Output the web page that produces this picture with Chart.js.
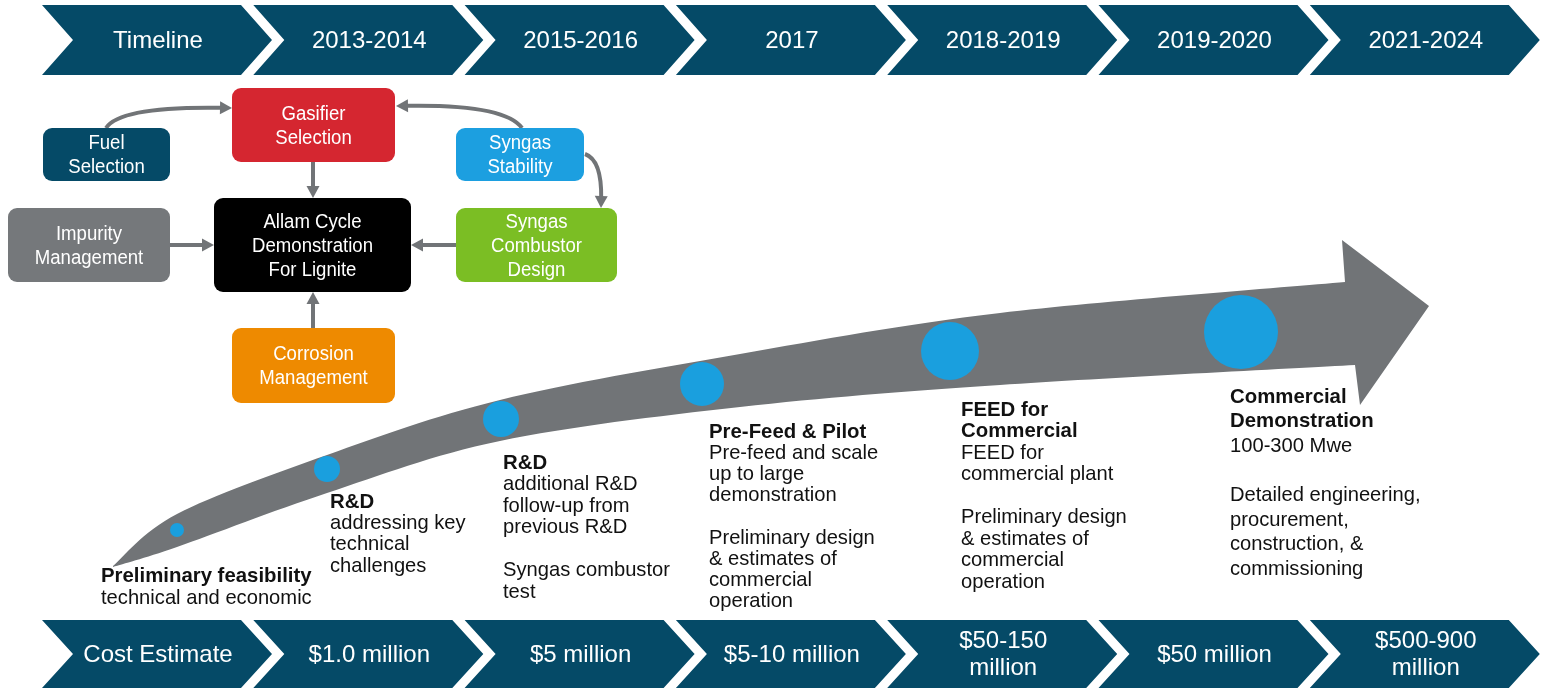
<!DOCTYPE html>
<html>
<head>
<meta charset="utf-8">
<script src="https://cdn.jsdelivr.net/npm/chart.js@4.4.1/dist/chart.umd.min.js"></script>
<style>
  html, body { margin: 0; padding: 0; background: #fff; overflow: hidden; }
</style>
</head>
<body>
<canvas id="chart" width="1548" height="690"></canvas>
<script>
// --- data ---
const timelineLabels = ['Timeline', '2013-2014', '2015-2016', '2017', '2018-2019', '2019-2020', '2021-2024'];
const costLabels = ['Cost Estimate', '$1.0 million', '$5 million', '$5-10 million', '$50-150\nmillion', '$50 million', '$500-900\nmillion'];

const stageTitles = [
  ['Preliminary feasibility'],
  ['R&D'],
  ['R&D'],
  ['Pre-Feed & Pilot'],
  ['FEED for', 'Commercial'],
  ['Commercial', 'Demonstration']
];
const stageNotes = [
  ['technical and economic'],
  ['addressing key', 'technical', 'challenges'],
  ['additional R&D', 'follow-up from', 'previous R&D', '', 'Syngas combustor', 'test'],
  ['Pre-feed and scale', 'up to large', 'demonstration', '', 'Preliminary design', '& estimates of', 'commercial', 'operation'],
  ['FEED for', 'commercial plant', '', 'Preliminary design', '& estimates of', 'commercial', 'operation'],
  ['100-300 Mwe', '', 'Detailed engineering,', 'procurement,', 'construction, &', 'commissioning']
];

// bubble position along the arrow and its size
const bubbleX = [177, 327, 501, 702, 950, 1241];
const bubbleY = [530, 469, 419, 384, 351, 332];
const bubbleR = [7, 13, 18, 22, 29, 37];

const flowLabels = ['Fuel\nSelection', 'Gasifier\nSelection', 'Syngas\nStability', 'Impurity\nManagement',
  'Allam Cycle\nDemonstration\nFor Lignite', 'Syngas\nCombustor\nDesign', 'Corrosion\nManagement'];

// --- layout (not data) ---
const boxLayout = [
  { x: 43, y: 128, w: 127, h: 53, c: '#054a67' },
  { x: 232, y: 88, w: 163, h: 74, c: '#d52630' },
  { x: 456, y: 128, w: 128, h: 53, c: '#1c9fe0' },
  { x: 8, y: 208, w: 162, h: 74, c: '#75787b' },
  { x: 214, y: 198, w: 197, h: 94, c: '#000000' },
  { x: 456, y: 208, w: 161, h: 74, c: '#7bbe24' },
  { x: 232, y: 328, w: 163, h: 75, c: '#ee8a00' }
];
const textPos = [[101, 576, 22], [330, 502, 21.3], [503, 463, 21.5], [709, 432, 21.2], [961, 410, 21.5], [1230, 397, 24.6]];
const upperEdge = [[113, 566], [177, 514], [327, 455], [500, 400], [740, 354], [1000, 313], [1345, 282]];
const lowerEdge = [[113, 567], [177, 547], [327, 493], [500, 441], [740, 407], [1000, 385], [1355, 365]];
const arrowHead = [[1342, 240], [1429, 306], [1360, 405]];

const TEAL = '#054a67';
const GREY = '#717477';
const FONT = '"Liberation Sans", Arial, sans-serif';

function spline(ctx, pts, px, first) {
  const p = pts.map(q => [px.x(q[0]), px.y(q[1])]);
  if (first) ctx.moveTo(p[0][0], p[0][1]); else ctx.lineTo(p[0][0], p[0][1]);
  for (let i = 0; i < p.length - 1; i++) {
    const p0 = p[Math.max(i - 1, 0)], p1 = p[i], p2 = p[i + 1], p3 = p[Math.min(i + 2, p.length - 1)];
    ctx.bezierCurveTo(p1[0] + (p2[0] - p0[0]) / 6, p1[1] + (p2[1] - p0[1]) / 6,
      p2[0] - (p3[0] - p1[0]) / 6, p2[1] - (p3[1] - p1[1]) / 6, p2[0], p2[1]);
  }
}

// narrow-looking text: draw with a horizontal squeeze
function narrowText(ctx, t, x, y, sx) {
  ctx.save();
  ctx.translate(x, y);
  ctx.scale(sx, 1);
  ctx.fillText(t, 0, 0);
  ctx.restore();
}

function chevronRow(ctx, px, labels, top, bot) {
  const mid = (top + bot) / 2, d = 31, w = 199, step = 211.3;
  labels.forEach((lab, i) => {
    const L = 42 + step * i;
    ctx.beginPath();
    ctx.moveTo(px.x(L), px.y(top));
    ctx.lineTo(px.x(L + w), px.y(top));
    ctx.lineTo(px.x(L + w + d), px.y(mid));
    ctx.lineTo(px.x(L + w), px.y(bot));
    ctx.lineTo(px.x(L), px.y(bot));
    ctx.lineTo(px.x(L + d), px.y(mid));
    ctx.closePath();
    ctx.fillStyle = TEAL;
    ctx.fill();
    const lines = lab.split('\n');
    ctx.fillStyle = '#fff';
    ctx.font = '24px ' + FONT;
    ctx.textAlign = 'center';
    ctx.textBaseline = 'middle';
    const cx = L + 116;
    lines.forEach((t, j) => {
      ctx.fillText(t, px.x(cx), px.y(mid + 1 + (j - (lines.length - 1) / 2) * 27));
    });
  });
}

function roundBox(ctx, x, y, w, h, r) {
  ctx.beginPath();
  ctx.moveTo(x + r, y);
  ctx.arcTo(x + w, y, x + w, y + h, r);
  ctx.arcTo(x + w, y + h, x, y + h, r);
  ctx.arcTo(x, y + h, x, y, r);
  ctx.arcTo(x, y, x + w, y, r);
  ctx.closePath();
}

function arrowTip(ctx, x, y, ang) {
  const s = 12;
  ctx.beginPath();
  ctx.moveTo(x, y);
  ctx.lineTo(x - s * Math.cos(ang) + 6.5 * Math.sin(ang), y - s * Math.sin(ang) - 6.5 * Math.cos(ang));
  ctx.lineTo(x - s * Math.cos(ang) - 6.5 * Math.sin(ang), y - s * Math.sin(ang) + 6.5 * Math.cos(ang));
  ctx.closePath();
  ctx.fill();
}

function flowArrow(ctx, px, pts) {
  const p = pts.map(q => [px.x(q[0]), px.y(q[1])]);
  ctx.strokeStyle = GREY;
  ctx.fillStyle = GREY;
  ctx.lineWidth = 4;
  ctx.beginPath();
  ctx.moveTo(p[0][0], p[0][1]);
  const e = p[p.length - 1], c = p[p.length - 2];
  const ang = Math.atan2(e[1] - c[1], e[0] - c[0]);
  const ex = e[0] - 9 * Math.cos(ang), ey = e[1] - 9 * Math.sin(ang);
  if (p.length === 3) ctx.quadraticCurveTo(p[1][0], p[1][1], ex, ey);
  else ctx.lineTo(ex, ey);
  ctx.stroke();
  arrowTip(ctx, e[0], e[1], ang);
}

const backdrop = {
  id: 'backdrop',
  beforeDatasetsDraw(chart) {
    const ctx = chart.ctx;
    const px = { x: v => chart.scales.x.getPixelForValue(v), y: v => chart.scales.y.getPixelForValue(v) };
    ctx.save();
    // big curved arrow
    ctx.beginPath();
    spline(ctx, upperEdge, px, true);
    arrowHead.forEach(q => ctx.lineTo(px.x(q[0]), px.y(q[1])));
    spline(ctx, lowerEdge.slice().reverse(), px, false);
    ctx.closePath();
    ctx.fillStyle = GREY;
    ctx.fill();
    ctx.restore();
  },
  afterDraw(chart) {
    const ctx = chart.ctx;
    const px = { x: v => chart.scales.x.getPixelForValue(v), y: v => chart.scales.y.getPixelForValue(v) };
    ctx.save();
    chevronRow(ctx, px, timelineLabels, 5, 75);
    chevronRow(ctx, px, costLabels, 620, 688);

    // flow diagram arrows
    flowArrow(ctx, px, [[106, 128], [120, 106], [232, 108]]);
    flowArrow(ctx, px, [[522, 128], [505, 104], [396, 106]]);
    flowArrow(ctx, px, [[585, 154], [602, 160], [601, 208]]);
    flowArrow(ctx, px, [[313, 162], [313, 198]]);
    flowArrow(ctx, px, [[170, 245], [214, 245]]);
    flowArrow(ctx, px, [[456, 245], [411, 245]]);
    flowArrow(ctx, px, [[313, 328], [313, 292]]);

    // flow boxes
    boxLayout.forEach((b, i) => {
      roundBox(ctx, px.x(b.x), px.y(b.y), b.w, b.h, 9);
      ctx.fillStyle = b.c;
      ctx.fill();
      const lines = flowLabels[i].split('\n');
      ctx.fillStyle = '#fff';
      ctx.font = '20px ' + FONT;
      ctx.textAlign = 'center';
      ctx.textBaseline = 'middle';
      lines.forEach((t, j) => {
        narrowText(ctx, t, px.x(b.x + b.w / 2), px.y(b.y + b.h / 2 + 1 + (j - (lines.length - 1) / 2) * 24), 0.93);
      });
    });

    // stage descriptions
    ctx.textAlign = 'left';
    ctx.textBaseline = 'middle';
    ctx.fillStyle = '#111';
    stageTitles.forEach((titles, i) => {
      const [x0, y0, lh] = textPos[i];
      let k = 0;
      ctx.font = 'bold 21px ' + FONT;
      titles.forEach(t => { narrowText(ctx, t, px.x(x0), px.y(y0 + k * lh), 0.97); k++; });
      ctx.font = '21px ' + FONT;
      stageNotes[i].forEach(t => { if (t) narrowText(ctx, t, px.x(x0), px.y(y0 + k * lh), 0.96); k++; });
    });
    ctx.restore();
  }
};

new Chart(document.getElementById('chart'), {
  type: 'bubble',
  data: {
    datasets: [{
      label: 'Stage',
      data: bubbleX.map((x, i) => ({ x: x, y: bubbleY[i], r: bubbleR[i] })),
      backgroundColor: '#1a9fde',
      borderWidth: 0,
      hoverRadius: 0,
      clip: false
    }]
  },
  options: {
    responsive: false,
    animation: false,
    events: [],
    layout: { padding: 0, autoPadding: false },
    plugins: { legend: { display: false }, tooltip: { enabled: false } },
    scales: {
      x: { type: 'linear', min: 0, max: 1548, display: false },
      y: { type: 'linear', min: 0, max: 690, reverse: true, display: false }
    }
  },
  plugins: [backdrop]
});
</script>
</body>
</html>
